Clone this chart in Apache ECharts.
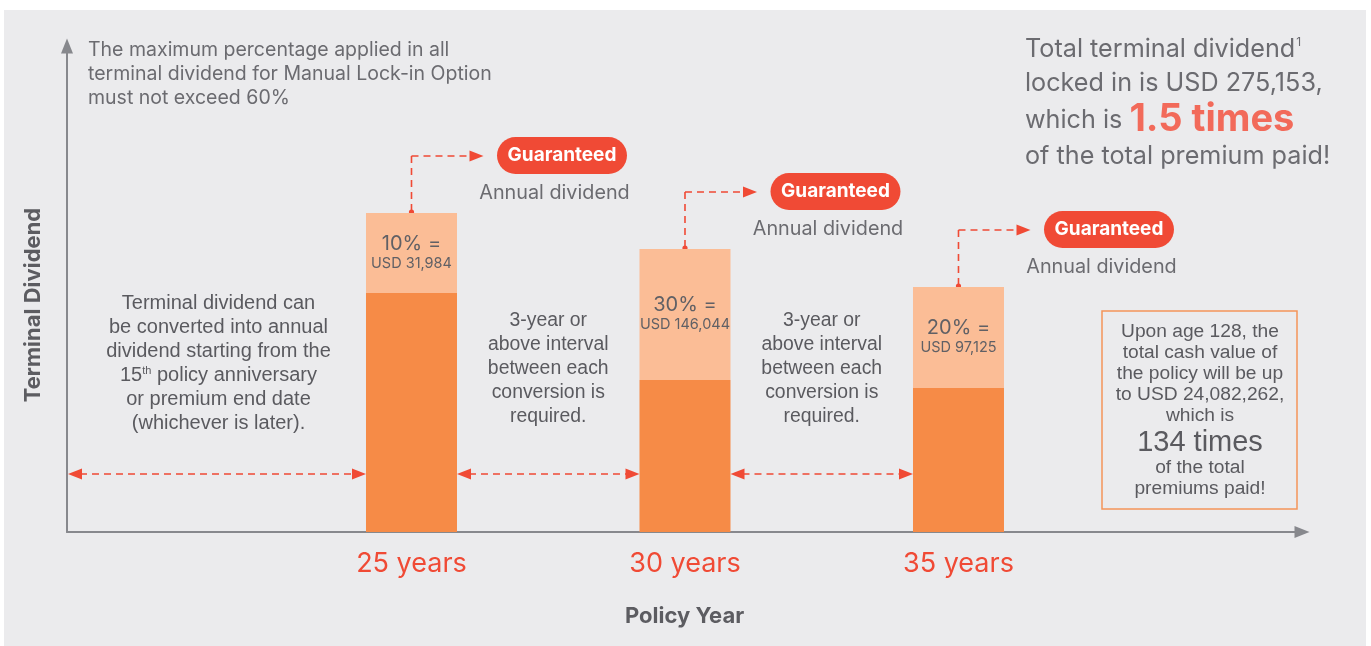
<!DOCTYPE html>
<html><head><meta charset="utf-8">
<script src="https://cdn.jsdelivr.net/npm/echarts@6/dist/echarts.min.js"></script>
<style>html,body{margin:0;padding:0;background:#fff}#c{width:1371px;height:646px}</style>
</head><body><div id="c"></div>
<script>
// ---- data ----
const policyYears = [25, 30, 35];
const tickLabels = ['25 years', '30 years', '35 years'];
const remainingDividend = [239, 152, 144];   // dark part (schematic height)
const lockedDividend = [80, 131, 101];       // light part (schematic height)
const lockedPercent = ['10%', '30%', '20%'];
const lockedAmount = ['USD 31,984', 'USD 146,044', 'USD 97,125'];
const noteText = ['The maximum percentage applied in all', 'terminal dividend for Manual Lock-in Option', 'must not exceed 60%'];
const leftGapText = ['Terminal dividend can', 'be converted into annual', 'dividend starting from the', '{n|15}{sup|th}{n| policy anniversary}', 'or premium end date', '(whichever is later).'];
const intervalText = ['3-year or', 'above interval', 'between each', 'conversion is', 'required.'];
const boxText = ['Upon age 128, the', 'total cash value of', 'the policy will be up', 'to USD 24,082,262,', 'which is', '{big|134 times}', 'of the total', 'premiums paid!'];

const RED = '#f04a35', DARK = '#f68b47', LIGHT = '#fbbd96', GREY = '#6b6b70', AXIS = '#87888d';
const GEO = 'Inter, "Noto Sans", sans-serif';
const ARIAL = '"Liberation Sans", Arial, sans-serif';

const chart = echarts.init(document.getElementById('c'));
chart.setOption({
  backgroundColor: '#fff',
  animation: false,
  grid: { left: 67, right: 69, top: 46, bottom: 114 },
  xAxis: {
    type: 'value', min: 18.702, max: 41.28,
    splitLine: { show: false },
    axisLine: { lineStyle: { color: AXIS, width: 2 }, symbol: ['none', 'triangle'], symbolSize: [12, 15] },
    axisTick: { show: false },
    axisLabel: {
      customValues: policyYears,
      formatter: v => tickLabels[policyYears.indexOf(v)] || '',
      color: RED, fontSize: 27, fontFamily: GEO, margin: 18
    },
    name: 'Policy Year', nameLocation: 'middle', nameGap: 73,
    nameTextStyle: { color: '#5c5c61', fontSize: 22, fontWeight: 'bold', fontFamily: GEO }
  },
  yAxis: {
    type: 'value', min: 0, max: 486,
    splitLine: { show: false },
    axisLine: { show: true, lineStyle: { color: AXIS, width: 2 }, symbol: ['none', 'triangle'], symbolSize: [12, 15] },
    axisTick: { show: false }, axisLabel: { show: false }
  },
  series: [
    { type: 'bar', stack: 'td', barWidth: 91, itemStyle: { color: DARK },
      encode: { x: 1, y: 0 },
      data: policyYears.map((x, i) => [remainingDividend[i], x]) },
    { type: 'bar', stack: 'td', barWidth: 91, itemStyle: { color: LIGHT },
      encode: { x: 1, y: 0 },
      data: policyYears.map((x, i) => [lockedDividend[i], x]),
      label: { show: true, position: 'inside',
        formatter: p => '{p|' + lockedPercent[p.dataIndex] + ' =}\n{u|' + lockedAmount[p.dataIndex] + '}',
        rich: { p: { fontSize: 20, color: '#606065', fontFamily: GEO, lineHeight: 21 },
                u: { fontSize: 14.5, color: '#606065', fontFamily: GEO, lineHeight: 19 } } } }
  ]
});

function px(x, y) { return chart.convertToPixel({ xAxisIndex: 0, yAxisIndex: 0 }, [x, y]); }
const half = 45.5;
const g = [];
// background panel
g.push({ type: 'rect', z: -10, silent: true, shape: { x: 4, y: 10, width: 1362, height: 636 }, style: { fill: '#ebebed' } });

function arrowHead(tipX, tipY, dir) { // dir: 1 right, -1 left
  return { type: 'polygon', shape: { points: [[tipX, tipY], [tipX - dir * 14, tipY - 5.5], [tipX - dir * 14, tipY + 5.5]] }, style: { fill: RED } };
}
function dashed(x1, y1, x2, y2) {
  return { type: 'line', shape: { x1, y1, x2, y2 }, style: { stroke: RED, lineWidth: 1.6, lineDash: [7, 5] } };
}
// horizontal interval arrows
const arrowY = px(25, 58)[1];
const origin = px(18.702, 0);
const bx = policyYears.map(x => px(x, 0)[0]);
const segs = [[origin[0] + 1, bx[0] - half], [bx[0] + half, bx[1] - half], [bx[1] + half, bx[2] - half]];
segs.forEach(s => {
  g.push(dashed(s[0] + 12, arrowY, s[1] - 12, arrowY));
  g.push(arrowHead(s[0], arrowY, -1));
  g.push(arrowHead(s[1], arrowY, 1));
});
// connectors + pills
policyYears.forEach((x, i) => {
  const top = px(x, remainingDividend[i] + lockedDividend[i]);
  const cx = top[0], ty = top[1];
  const ly = ty - 57;
  g.push({ type: 'circle', shape: { cx, cy: ty - 1, r: 2.6 }, style: { fill: RED } });
  g.push(dashed(cx, ty - 2, cx, ly));
  g.push(dashed(cx, ly, cx + 58, ly));
  g.push(arrowHead(cx + 72, ly, 1));
  g.push({ type: 'rect', shape: { x: cx + 85.5, y: ly - 19, width: 130, height: 37, r: 18.5 }, style: { fill: RED } });
  g.push({ type: 'text', x: cx + 150.5, y: ly - 0.5, style: { text: 'Guaranteed', fill: '#fff', font: 'bold 19px ' + GEO, align: 'center', verticalAlign: 'middle' } });
  g.push({ type: 'text', x: cx + 143, y: ly + 37, style: { text: 'Annual dividend', fill: GREY, font: '19.8px ' + GEO, align: 'center', verticalAlign: 'middle' } });
});
// top-left note
noteText.forEach((t, i) => g.push({ type: 'text', x: 88, y: 50 + i * 24, style: { text: t, fill: GREY, font: '19.5px ' + GEO, verticalAlign: 'middle' } }));
// gap texts
const leftCx = (origin[0] + bx[0] - half) / 2;
leftGapText.forEach((t, i) => g.push({ type: 'text', x: leftCx + 2, y: 303 + i * 24, style: {
  text: t.indexOf('{') >= 0 ? t : '{n|' + t + '}', align: 'center', verticalAlign: 'middle',
  rich: { n: { fill: '#5a5a5f', font: '20px ' + ARIAL }, sup: { fill: '#5a5a5f', font: '11px ' + ARIAL, verticalAlign: 'top', padding: [0, 0, 8, 0] } } } }));
[0, 1].forEach(k => {
  const cx = (bx[k] + half + bx[k + 1] - half) / 2;
  intervalText.forEach((t, i) => g.push({ type: 'text', x: cx, y: 321 + i * 24, style: { text: t, fill: '#5a5a5f', font: '19.4px ' + ARIAL, align: 'center', verticalAlign: 'middle' } }));
});
// right box
g.push({ type: 'rect', shape: { x: 1102, y: 311, width: 195, height: 198 }, style: { fill: 'none', stroke: '#f5955a', lineWidth: 1.5 } });
const boxY = [332, 353, 374, 395, 416, 443, 468, 489];
boxText.forEach((t, i) => g.push({ type: 'text', x: 1200, y: boxY[i], style: {
  text: t.indexOf('{') >= 0 ? t : '{n|' + t + '}', align: 'center', verticalAlign: 'middle',
  rich: { n: { fill: '#5a5a5f', font: '19.2px ' + ARIAL }, big: { fill: '#5a5a5f', font: '29px ' + ARIAL } } } }));
// top-right headline
const trLines = ['{n|Total terminal dividend}{sup|1}', '{n|locked in is USD 275,153,}', '{n|which is }{big|1.5 times}', '{n|of the total premium paid!}'];
const trY = [49, 83, 120, 156];
trLines.forEach((t, i) => g.push({ type: 'text', x: 1025, y: trY[i], style: {
  text: t, verticalAlign: 'middle',
  rich: { n: { fill: GREY, font: '25.2px ' + GEO }, sup: { fill: GREY, font: '12px ' + GEO, verticalAlign: 'top', padding: [0, 0, 13, 1] },
          big: { fill: '#f26a5a', font: 'bold 38px ' + GEO } } } }));
// y axis name
g.push({ type: 'text', x: 33, y: 305, rotation: Math.PI / 2, style: { text: 'Terminal Dividend', fill: '#5c5c61', font: 'bold 22px ' + GEO, align: 'center', verticalAlign: 'middle' } });

chart.setOption({ graphic: g });
</script></body></html>
